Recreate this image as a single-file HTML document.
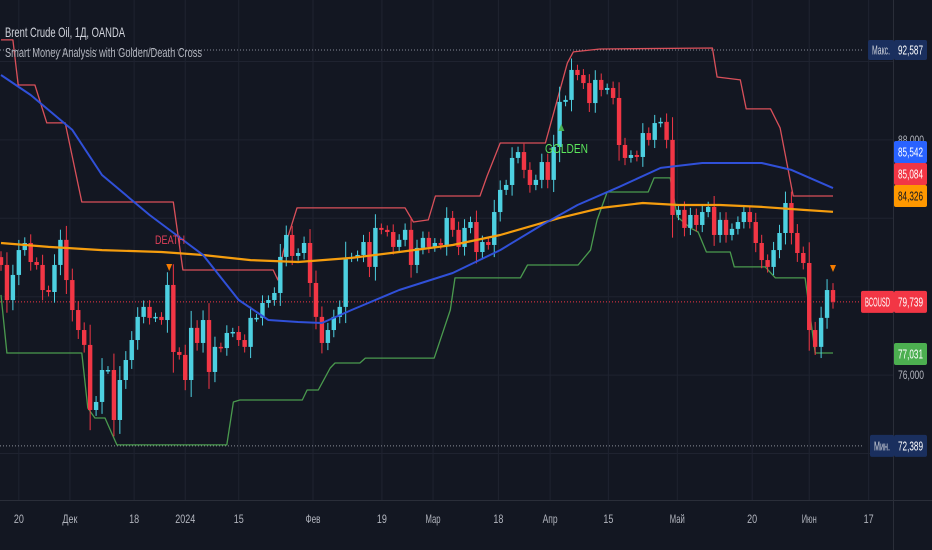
<!DOCTYPE html>
<html><head><meta charset="utf-8"><style>
html,body{margin:0;padding:0;background:#131722;}
svg{display:block;font-family:"Liberation Sans","DejaVu Sans",sans-serif;}
</style></head><body>
<svg id="chart" width="932" height="550" xmlns="http://www.w3.org/2000/svg">
<rect width="932" height="550" fill="#131722"/>
<g id="grid"></g>
<g id="plot"></g>
<g id="axis"></g>
<text x="5" y="37" font-size="14" fill="#d1d4dc" textLength="120" lengthAdjust="spacingAndGlyphs">Brent Crude Oil, 1Д, OANDA</text>
<text x="5" y="57" font-size="13" fill="#b2b5be" textLength="197" lengthAdjust="spacingAndGlyphs">Smart Money Analysis with Golden/Death Cross</text>
</svg>
<script>
const closes=[81.62,79.83,81.11,82.38,82.74,81.77,81.62,80.34,80.24,81.62,82.9,80.85,79.32,78.30,77.54,74.22,74.63,76.26,76.26,73.71,75.75,76.77,77.79,78.97,79.48,78.92,78.97,78.81,80.6,77.18,77.03,75.75,78.41,77.64,78.81,76.16,77.44,77.38,78.15,78.2,77.79,77.44,78.92,78.92,79.68,79.83,80.19,82.03,83.15,82.08,
82.23,82.74,80.7,78.97,77.64,78.3,78.97,79.48,81.98,82.03,82.13,82.79,81.52,83.51,83.41,83.3,82.54,82.9,83.41,81.62,82.49,83.0,82.54,82.74,82.64,84.02,83.41,82.54,83.51,83.81,82.28,82.79,82.64,84.32,85.45,85.7,87.08,87.38,86.47,85.7,85.96,86.87,85.96,87.64,89.94,90.04,91.57,91.31,
90.9,89.88,91.06,90.55,90.65,90.14,87.74,87.08,87.23,87.13,88.35,88.0,88.86,88.92,88.0,84.17,84.43,83.51,84.17,83.66,84.32,84.58,83.15,83.92,83.15,83.46,83.81,84.32,83.81,82.74,81.87,81.52,82.38,83.25,84.78,83.25,82.23,81.72,78.3,77.44,78.92,80.34,79.74];
const blueIdx=[0,5,12,17,25,34,40,45,50,54,59,67,76,84,91,97,104,111,118,128,133,140];
const blueVal=[91.31,90.29,88.51,86.21,84.17,82.13,79.83,78.81,78.71,78.66,79.32,80.34,81.21,82.38,83.66,84.68,85.6,86.57,86.82,86.82,86.47,85.54];
const orangeIdx=[0,8,17,27,34,42,50,59,67,76,84,94,101,108,114,121,128,135,140];
const orangeVal=[82.74,82.54,82.38,82.28,82.13,81.87,81.77,81.98,82.28,82.64,83.15,84.02,84.53,84.78,84.68,84.68,84.58,84.43,84.33];
const resIdx=[0,2,2.9,5.7,7.7,10.8,13.6,29,30.6,45.8,46.6,47.5,49.8,68,69.4,71.9,73.1,80.6,81.8,84,91.6,95.3,96.3,100.8,119.7,120.5,124.4,125.4,129.5,131.1,133.3,140];
const resVal=[93.1,93.1,90.8,90.8,88.87,88.87,84.83,84.83,81.36,81.36,80.85,82.3,84.53,84.53,83.81,83.92,85.14,85.14,86.16,87.84,87.84,91.93,92.49,92.64,92.69,91.21,91.06,89.58,89.58,88.61,85.14,85.14];
const supIdx=[0,1,13.6,14.6,15.8,17.5,19.5,38,39.1,40.2,50.7,51.5,53.4,55.4,56.2,60.4,61.3,72.9,75.6,76.4,87.4,88.6,97.1,99.2,100.3,102,108.9,109.9,112.6,113.8,116,117.3,118.7,122.7,123.4,128.6,130.3,135.3,137,140];
const supVal=[80.09,77.13,77.13,74.32,73.81,73.81,72.44,72.44,74.63,74.73,74.73,75.24,75.24,76.36,76.62,76.62,76.87,76.87,79.32,80.96,80.96,81.62,81.62,82.38,83.92,85.34,85.34,86.06,86.06,84.07,83.51,83.3,82.28,82.28,81.52,81.52,80.96,80.96,77.13,77.13];
const priceTicks=[92,88,84,80,76,72];
const dateLabels=["20","Дек","18","2024","15","Фев","19","Мар","18","Апр","15","Май","20","Июн","17"];
const dateIdx=[3,11.6,22.4,31,40,52.5,64.1,72.7,83.7,92.4,102.2,113.8,126.4,136,146];
const axisValues=["85,542","85,084","84,326","77,031"];
const maxPrice=92.587, minPrice=72.389, lastPrice=79.739;
const NS="http://www.w3.org/2000/svg";
const X0=1, DX=(833-1)/(closes.length-1);
function x(i){return X0+i*DX;}
function y(p){return 50+(maxPrice-p)*19.6;}
function mk(tag,attrs,parent){const e=document.createElementNS(NS,tag);for(const k in attrs)e.setAttribute(k,attrs[k]);parent.appendChild(e);return e;}
const grid=document.getElementById('grid'),plot=document.getElementById('plot'),axis=document.getElementById('axis');
priceTicks.forEach(p=>{const l=mk('line',{x1:0,x2:893,y1:y(p),y2:y(p),stroke:'#1f2330','stroke-width':1},grid);

});
dateIdx.forEach((d,k)=>{const l=mk('line',{x1:x(d),x2:x(d),y1:0,y2:500,stroke:'#1f2330','stroke-width':1},grid);


const t=mk('text',{x:x(d),y:523,'font-size':12,fill:'#b2b5be','text-anchor':'middle',textLength:dateLabels[k].length*5,lengthAdjust:'spacingAndGlyphs'},axis);t.textContent=dateLabels[k];

});
mk('line',{x1:0,x2:932,y1:500.5,y2:500.5,stroke:'#2a2e39'},axis);
mk('line',{x1:893.5,x2:893.5,y1:0,y2:550,stroke:'#2a2e39'},axis);
[[maxPrice,'#8a8e99'],[minPrice,'#8a8e99'],[lastPrice,'#f23645']].forEach(([p,c])=>{const l=mk('line',{x1:0,x2:862,y1:y(p),y2:y(p),stroke:c,'stroke-dasharray':'1,2','stroke-width':1},plot);

});
function poly(idx,val,color,w,name){let d=idx.map((i,k)=>(k?'L':'M')+x(i).toFixed(1)+' '+y(val[k]).toFixed(1)).join(' ');
const pth=mk('path',{d:d,fill:'none',stroke:color,'stroke-width':w,'stroke-linejoin':'round'},plot);

}
poly(resIdx,resVal,'#d9505a',1.3,'resistance-line');
poly(supIdx,supVal,'#4a9a4e',1.3,'support-line');
closes.forEach((c,i)=>{const o=i?closes[i-1]:c+0.4;const up=c>=o;const col=up?'#4dd0e1':'#f23645';
const top=Math.max(o,c),bot=Math.min(o,c);const wick=0.2+Math.abs(c-o)*0.25;
const w=mk('line',{x1:x(i),x2:x(i),y1:y(top+wick),y2:y(bot-wick),stroke:col,'stroke-width':1},plot);


const h=Math.max(1.5,y(bot)-y(top));
const r=mk('rect',{x:x(i)-2.2,y:y(top),width:4.4,height:h,fill:col},plot);

});
poly(orangeIdx,orangeVal,'#f59d0e',2.2,'sma-200-line');
poly(blueIdx,blueVal,'#3050d8',2,'sma-50-line');
function tri(cx,cy,down,color,name){const d=down?`M${cx-3} ${cy-3}L${cx+3} ${cy-3}L${cx} ${cy+4}Z`:`M${cx-3} ${cy+3}L${cx+3} ${cy+3}L${cx} ${cy-4}Z`;
const p=mk('path',{d:d,fill:color},plot);

}
tri(x(28.3),267,true,'#f57c00','death-marker');
tri(x(94.3),128,false,'#4caf50','golden-marker');
tri(x(140),268,true,'#f57c00','sell-marker');
let t=mk('text',{x:155,y:244,'font-size':12,fill:'#e0405a',textLength:30,lengthAdjust:'spacingAndGlyphs'},plot);t.textContent='DEATH';


t=mk('text',{x:545,y:153,'font-size':13,fill:'#5ce65c',textLength:43,lengthAdjust:'spacingAndGlyphs'},plot);t.textContent='GOLDEN';


function tag(x0,w,cy,h,bg,fg,txt,name){const r=mk('rect',{x:x0,y:cy-h/2,width:w,height:h,fill:bg,rx:2},axis);


const tx=mk('text',{x:x0+w/2,y:cy+4.5,'font-size':13,fill:fg,'text-anchor':'middle',textLength:w-8,lengthAdjust:'spacingAndGlyphs'},axis);tx.textContent=txt;

}
const fmt=v=>v.toFixed(3).replace('.',',');
[[88,'88,000'],[76,'76,000']].forEach(([p,s])=>{const tx=mk('text',{x:911,y:y(p)+4,'font-size':12,fill:'#b2b5be','text-anchor':'middle',textLength:26,lengthAdjust:'spacingAndGlyphs'},axis);tx.textContent=s;

});
tag(868,26,y(maxPrice),20,'#1a2f5e','#d1d4dc','Макс.','max-label');
tag(894,33,y(maxPrice),20,'#1a2f5e','#ffffff',fmt(maxPrice),'max-value');
tag(894,33,152,22,'#2962ff','#ffffff',axisValues[0],'sma50-value');
tag(894,33,174,22,'#f23645','#ffffff',axisValues[1],'resistance-value');
tag(894,33,196,22,'#ff9800','#131722',axisValues[2],'sma200-value');
tag(861,33,y(lastPrice),22,'#f23645','#ffffff','BCOUSD','symbol-label');
tag(894,33,y(lastPrice),22,'#f23645','#ffffff',fmt(lastPrice),'last-price-value');
tag(894,33,354,22,'#4caf50','#ffffff',axisValues[3],'support-value');
tag(870,24,y(minPrice),22,'#1a2f5e','#d1d4dc','Мин.','min-label');
tag(894,33,y(minPrice),22,'#1a2f5e','#ffffff',fmt(minPrice),'min-value');
</script>
</body></html>
